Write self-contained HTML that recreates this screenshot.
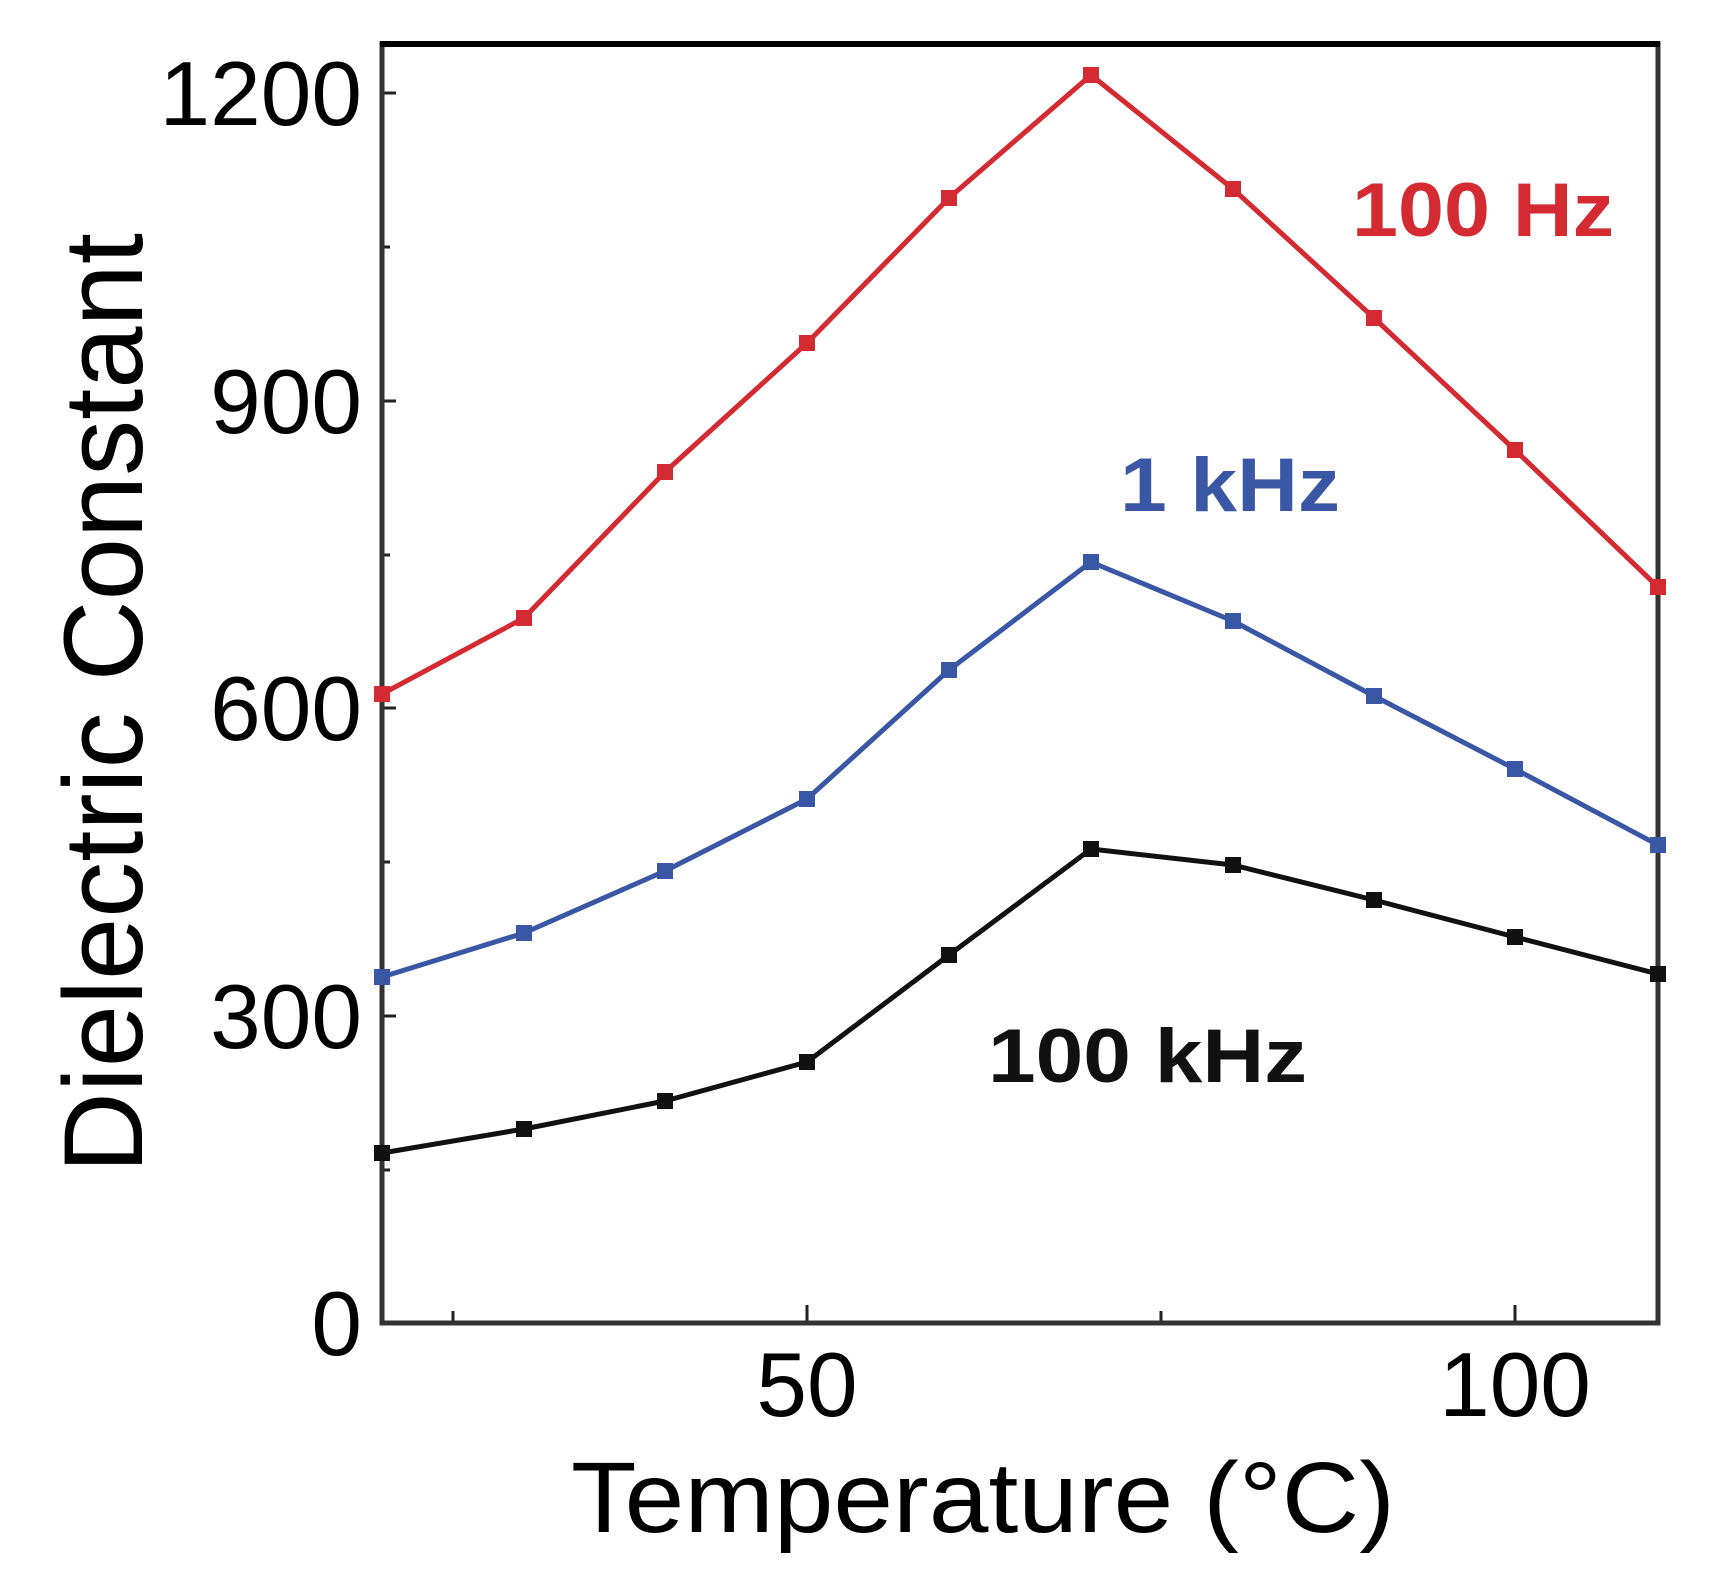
<!DOCTYPE html>
<html><head><meta charset="utf-8"><style>html,body{margin:0;padding:0;background:#fff}svg{display:block}</style></head>
<body>
<svg width="1722" height="1595" viewBox="0 0 1722 1595" xmlns="http://www.w3.org/2000/svg" font-family="Liberation Sans, Arial, sans-serif">
<rect width="1722" height="1595" fill="#fff"/>
<g stroke="#222" stroke-width="3">
<line x1="382" y1="1016" x2="396" y2="1016"/>
<line x1="382" y1="708" x2="396" y2="708"/>
<line x1="382" y1="401" x2="396" y2="401"/>
<line x1="382" y1="93" x2="396" y2="93"/>
<line x1="382" y1="1170" x2="390" y2="1170"/>
<line x1="382" y1="862" x2="390" y2="862"/>
<line x1="382" y1="555" x2="390" y2="555"/>
<line x1="382" y1="247" x2="390" y2="247"/>
<line x1="807" y1="1323" x2="807" y2="1305"/>
<line x1="1515" y1="1323" x2="1515" y2="1305"/>
<line x1="453" y1="1323" x2="453" y2="1311"/>
<line x1="1161" y1="1323" x2="1161" y2="1311"/>
</g>
<rect x="382" y="44" width="1276" height="1279" fill="none" stroke="#333" stroke-width="5"/>
<line x1="380" y1="44" x2="1660" y2="44" stroke="#000" stroke-width="6"/>
<g font-size="91" fill="#000" text-anchor="end">
<text x="362" y="1355">0</text>
<text x="362" y="1048">300</text>
<text x="362" y="740">600</text>
<text x="362" y="433">900</text>
<text x="362" y="125">1200</text>
</g>
<g font-size="91" fill="#000" text-anchor="middle">
<text x="807" y="1416">50</text>
<text x="1515" y="1416">100</text>
</g>
<text x="983" y="1532" font-size="100" text-anchor="middle" textLength="824" lengthAdjust="spacingAndGlyphs">Temperature (°C)</text>
<text transform="translate(142,703) rotate(-90)" font-size="112" text-anchor="middle">Dielectric Constant</text>
<g fill="none" stroke-width="5" stroke-linejoin="round">
<polyline stroke="#d42a32" points="382,694 524,618 665,472 807,343 949,198 1091,75 1233,189 1374,318 1515,450 1658,587"/>
<polyline stroke="#3a57a5" points="382,977 524,933 665,871 807,799 949,670 1091,562 1233,621 1374,696 1515,769 1658,845"/>
<polyline stroke="#111" points="382,1153 524,1129 665,1101 807,1062 949,955 1091,849 1233,865 1374,900 1515,937 1658,974"/>
</g>
<g fill="#d42a32">
<rect x="374" y="686" width="16" height="16"/><rect x="516" y="610" width="16" height="16"/><rect x="657" y="464" width="16" height="16"/><rect x="799" y="335" width="16" height="16"/><rect x="941" y="190" width="16" height="16"/><rect x="1083" y="67" width="16" height="16"/><rect x="1225" y="181" width="16" height="16"/><rect x="1366" y="310" width="16" height="16"/><rect x="1507" y="442" width="16" height="16"/><rect x="1650" y="579" width="16" height="16"/>
</g>
<g fill="#3a57a5">
<rect x="374" y="969" width="16" height="16"/><rect x="516" y="925" width="16" height="16"/><rect x="657" y="863" width="16" height="16"/><rect x="799" y="791" width="16" height="16"/><rect x="941" y="662" width="16" height="16"/><rect x="1083" y="554" width="16" height="16"/><rect x="1225" y="613" width="16" height="16"/><rect x="1366" y="688" width="16" height="16"/><rect x="1507" y="761" width="16" height="16"/><rect x="1650" y="837" width="16" height="16"/>
</g>
<g fill="#111">
<rect x="374" y="1145" width="16" height="16"/><rect x="516" y="1121" width="16" height="16"/><rect x="657" y="1093" width="16" height="16"/><rect x="799" y="1054" width="16" height="16"/><rect x="941" y="947" width="16" height="16"/><rect x="1083" y="841" width="16" height="16"/><rect x="1225" y="857" width="16" height="16"/><rect x="1366" y="892" width="16" height="16"/><rect x="1507" y="929" width="16" height="16"/><rect x="1650" y="966" width="16" height="16"/>
</g>
<g font-size="76" font-weight="bold">
<text x="1352" y="236" fill="#d42a32" textLength="262" lengthAdjust="spacingAndGlyphs">100 Hz</text>
<text x="1120" y="511" fill="#3a57a5" textLength="220" lengthAdjust="spacingAndGlyphs">1 kHz</text>
<text x="988" y="1082" fill="#111" textLength="319" lengthAdjust="spacingAndGlyphs">100 kHz</text>
</g>
</svg>
</body></html>
